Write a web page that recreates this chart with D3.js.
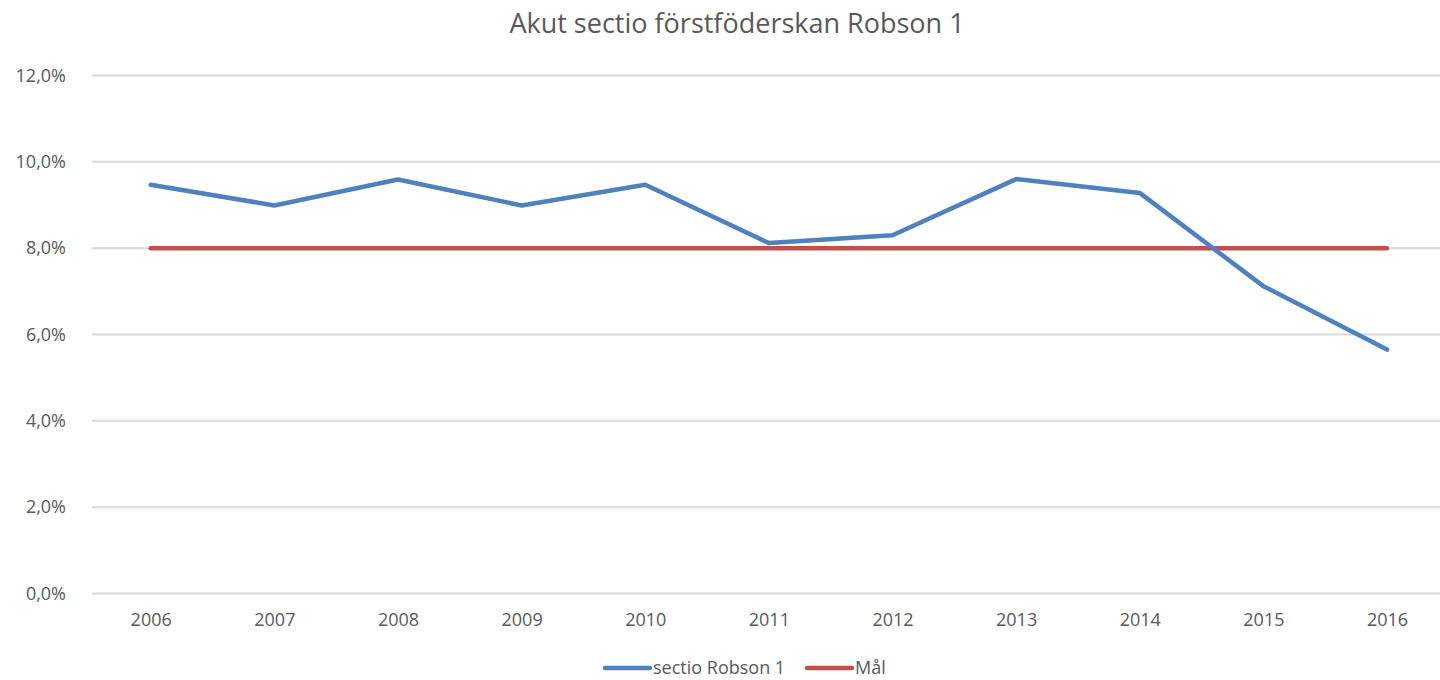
<!DOCTYPE html>
<html>
<head>
<meta charset="utf-8">
<script src="https://cdn.jsdelivr.net/npm/d3@7"></script>
<style>
  body { margin: 0; background: #fff; }
  svg { display: block; font-family: 'Open Sans', 'Noto Sans', sans-serif; }
</style>
</head>
<body>
<svg id="chart" width="1440" height="680"></svg>
<script>
const years = ['2006', '2007', '2008', '2009', '2010', '2011', '2012', '2013', '2014', '2015', '2016'];
const sectio = [9.47, 8.99, 9.59, 8.99, 9.47, 8.12, 8.30, 9.60, 9.28, 7.12, 5.65];
const goal = [8, 8, 8, 8, 8, 8, 8, 8, 8, 8, 8];
const yTicks = [0, 2, 4, 6, 8, 10, 12];

const svg = d3.select('#chart');

// plot area
const x = d3.scalePoint().domain(years).range([150.7, 1387]);
const y = d3.scaleLinear().domain([0, 12]).range([593.5, 75.5]);
const gridLeft = 92;
const gridRight = 1440;

const fmt = (v) => d3.format('.1f')(v).replace('.', ',') + '%';

// gridlines
svg.append('g')
  .selectAll('line')
  .data(yTicks)
  .join('line')
  .attr('x1', gridLeft)
  .attr('x2', gridRight)
  .attr('y1', (d) => y(d))
  .attr('y2', (d) => y(d))
  .attr('stroke', '#d9d9d9')
  .attr('stroke-width', 2);

// y axis labels
const yAxis = svg.append('g')
  .attr('transform', 'translate(66,0)')
  .call(d3.axisLeft(y).tickValues(yTicks).tickFormat(fmt).tickSize(0).tickPadding(0));
yAxis.select('.domain').remove();
yAxis.selectAll('text')
  .attr('fill', '#595959')
  .style('font-size', '18px')
  .style('font-family', "'Open Sans', 'Noto Sans', sans-serif");

// x axis labels
const xAxis = svg.append('g')
  .attr('transform', 'translate(0,613)')
  .call(d3.axisBottom(x).tickSize(0).tickPadding(0));
xAxis.select('.domain').remove();
xAxis.selectAll('text')
  .attr('fill', '#595959')
  .style('font-size', '18px')
  .style('font-family', "'Open Sans', 'Noto Sans', sans-serif");

const line = d3.line()
  .x((d, i) => x(years[i]))
  .y((d) => y(d));

svg.append('path')
  .datum(goal)
  .attr('d', line)
  .attr('fill', 'none')
  .attr('stroke', '#c0504d')
  .attr('stroke-width', 4.5)
  .attr('stroke-linecap', 'round');

svg.append('path')
  .datum(sectio)
  .attr('d', line)
  .attr('fill', 'none')
  .attr('stroke', '#4f81bd')
  .attr('stroke-width', 4.5)
  .attr('stroke-linecap', 'round')
  .attr('stroke-linejoin', 'round');

// title
svg.append('text')
  .attr('x', 737)
  .attr('y', 33)
  .attr('text-anchor', 'middle')
  .attr('fill', '#595959')
  .style('font-size', '27px')
  .text('Akut sectio förstföderskan Robson 1');

// legend
const legendItems = [
  { name: 'sectio Robson 1', color: '#4f81bd', x: 605 },
  { name: 'Mål', color: '#c0504d', x: 807 },
];
const legend = svg.append('g')
  .selectAll('g')
  .data(legendItems)
  .join('g')
  .attr('transform', (d) => `translate(${d.x},668)`);
legend.append('line')
  .attr('x1', 0)
  .attr('x2', 45)
  .attr('stroke', (d) => d.color)
  .attr('stroke-width', 4.5)
  .attr('stroke-linecap', 'round');
legend.append('text')
  .attr('x', 48)
  .attr('dy', '0.35em')
  .attr('fill', '#595959')
  .style('font-size', '18px')
  .text((d) => d.name);
</script>
</body>
</html>
